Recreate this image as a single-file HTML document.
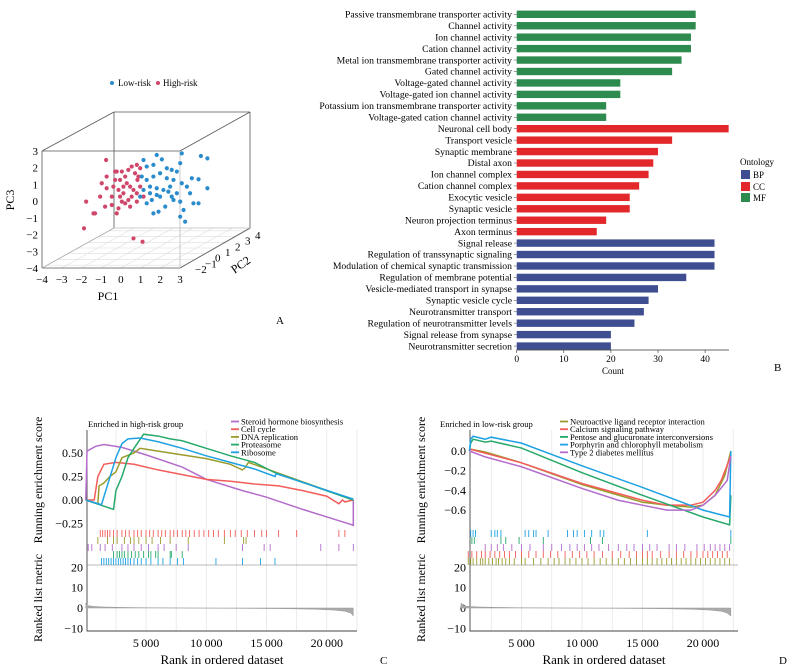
<!DOCTYPE html>
<html><head><meta charset="utf-8">
<style>
html,body{margin:0;padding:0;background:#fff;}
svg{display:block;font-family:"Liberation Serif",serif;}
</style></head>
<body>
<svg id="fig" width="788" height="671" viewBox="0 0 788 671" xmlns="http://www.w3.org/2000/svg">
  <g id="panelA">
    <g>
      <circle cx="112" cy="83" r="2" fill="#2a8ccc"/>
      <text x="118" y="86" font-size="9">Low-risk</text>
      <circle cx="158" cy="83" r="2" fill="#d0466a"/>
      <text x="163" y="86" font-size="9">High-risk</text>
    </g>
    <g id="floorGrid" stroke="#ddd" stroke-width="0.6"></g>
    <g stroke="#555" stroke-width="0.8" fill="none">
      <line x1="114" y1="112" x2="250" y2="112"/>
      <line x1="114" y1="112" x2="114" y2="228"/>
      <line x1="250" y1="112" x2="250" y2="228"/>
      <line x1="42" y1="151" x2="114" y2="112"/>
      <line x1="180" y1="151" x2="250" y2="112"/>
      <line x1="42" y1="151" x2="180" y2="151"/>
      <line x1="42" y1="151" x2="42" y2="268"/>
      <line x1="42" y1="268" x2="180" y2="268"/>
      <line x1="180" y1="268" x2="250" y2="228"/>
      <line x1="42" y1="268" x2="114" y2="228" stroke="#aaa"/>
      <line x1="180" y1="151" x2="180" y2="268" stroke="#bbb"/>
      <line x1="114" y1="228" x2="250" y2="228" stroke="#bbb"/>
    </g>
    <g id="pcaTicks" font-size="11"></g>
    <g id="pcaPoints"></g>
    <text x="108" y="300" font-size="12" text-anchor="middle">PC1</text>
    <text x="14" y="200" font-size="12" text-anchor="middle" transform="rotate(-90 14 200)">PC3</text>
    <text x="243" y="268" font-size="12" text-anchor="middle" transform="rotate(-35 243 268)">PC2</text>
    <text x="276" y="324" font-size="11">A</text>
  </g>

  <g id="panelB">
    <g id="bars"></g>
    <g id="barAxis"></g>
    <text x="613" y="374" font-size="9" text-anchor="middle">Count</text>
    <g>
      <text x="740" y="165" font-size="9">Ontology</text>
      <rect x="741" y="170" width="9" height="9" fill="#3f4e91"/>
      <text x="753" y="178" font-size="9">BP</text>
      <rect x="741" y="182" width="9" height="9" fill="#e2282a"/>
      <text x="753" y="190" font-size="9">CC</text>
      <rect x="741" y="193" width="9" height="9" fill="#2e8b4f"/>
      <text x="753" y="201" font-size="9">MF</text>
    </g>
    <text x="774" y="371" font-size="11">B</text>
  </g>

  <g id="panelC"></g>
  <g id="panelD"></g>
</svg>

<script>
const NS = "http://www.w3.org/2000/svg";
function mk(tag, attrs, parent, txt){
  const e = document.createElementNS(NS, tag);
  for (const k in attrs) e.setAttribute(k, attrs[k]);
  if (txt !== undefined) e.textContent = txt;
  parent.appendChild(e);
  return e;
}

/* ---------------- Panel A data ---------------- */
const lowPC1 = [1.15,1.82,2.08,3.09,4.06,4.39,1.31,1.65,2.33,2.58,2.84,3.01,1.06,1.31,1.65,1.99,2.33,2.67,3.09,3.35,3.6,3.94,4.39,1.48,1.82,2.16,2.41,2.84,3.51,3.68,3.94,3.18,3.01,1.82,1.57,1.31,1.65,1.91,2.25,3.01,3.26,2.58,1.99,1.15,1.48,0.98,2.5,2.67];
const lowPC3 = [2.46,2.76,2.5,2.86,2.7,2.56,2.07,2.17,1.97,1.87,1.77,2.27,1.47,1.27,1.47,1.67,1.37,1.27,1.07,0.87,1.37,1.31,0.77,0.87,0.77,0.67,0.57,0.47,0.47,-0.13,-0.13,-0.53,-0.03,0.37,0.07,-0.13,-0.73,-0.63,-0.33,-0.93,-1.23,0.27,0.27,0.67,0.47,0.27,0.87,0.07];
const highPC1 = [-0.75,-1.76,-1.31,-1.39,-1.87,0.64,1.10,-0.97,-0.72,-1.05,-0.80,-0.46,-0.21,-0.12,-0.04,-0.12,-0.29,-0.21,0.05,0.22,0.38,0.55,0.81,0.98,0.72,0.89,0.30,0.47,0.64,0.81,0.55,0.38,0.22,0.05,0.98,1.15,-0.04,-0.38,0.13,0.81,0.47,-0.72,-0.46,-0.29,0.84,0.13];
const highPC3 = [2.46,-0.03,-0.73,-0.73,-1.63,-2.23,-2.43,1.07,0.77,0.27,-0.33,-0.23,-0.73,-0.43,0.27,0.67,1.27,1.77,1.77,1.47,1.87,2.07,2.17,1.97,1.67,1.47,1.07,0.87,0.67,0.47,0.27,0.07,-0.13,-0.03,0.87,0.27,1.27,0.87,0.87,-0.03,-0.33,1.47,0.27,1.77,1.27,0.47];
const pc1Ticks = [-4,-3,-2,-1,0,1,2,3];
const pc3Ticks = [3,2,1,0,-1,-2,-3,-4];
const pc2Ticks = [-2,-1,0,1,2,3,4];

(function(){
  const xA = v => 42 + (v + 4) * (138 / 7);
  const yA = v => 151 + (3 - v) * (117 / 7);
  const pts = document.getElementById('pcaPoints');
  for (let i = 0; i < highPC1.length; i++) {
    const c = mk('circle', {cx: xA(highPC1[i]), cy: yA(highPC3[i]), r: 2.1, fill: '#d0466a'}, pts);
    
    
  }
  for (let i = 0; i < lowPC1.length; i++) {
    const c = mk('circle', {cx: xA(lowPC1[i]), cy: yA(lowPC3[i]), r: 2.1, fill: '#2a8ccc'}, pts);
    
    
  }
  const tk = document.getElementById('pcaTicks');
  const grid = document.getElementById('floorGrid');
  pc1Ticks.forEach(v => {
    const t = mk('text', {x: xA(v), y: 283, 'text-anchor': 'middle'}, tk, (v < 0 ? '\u2212' + (-v) : v));
    
    
    const g = mk('line', {x1: xA(v), y1: 268, x2: xA(v) + 72, y2: 228}, grid);
    
    
  });
  pc3Ticks.forEach(v => {
    const t = mk('text', {x: 38, y: yA(v) + 4, 'text-anchor': 'end'}, tk, (v < 0 ? '\u2212' + (-v) : v));
    
    
  });
  const d2 = v => (v + 2.5) / 7;
  pc2Ticks.forEach(v => {
    const f = d2(v);
    const t = mk('text', {x: 190 + f * 70, y: 272 - f * 40 + 4, 'text-anchor': 'start'}, tk, (v < 0 ? '\u2212' + (-v) : v));
    
    
    const g = mk('line', {x1: 42 + f * 72, y1: 268 - f * 40, x2: 180 + f * 70, y2: 268 - f * 40}, grid);
    
    
  });
})();

/* ---------------- Panel B data ---------------- */
const goTerms = ["Passive transmembrane transporter activity","Channel activity","Ion channel activity","Cation channel activity","Metal ion transmembrane transporter activity","Gated channel activity","Voltage-gated channel activity","Voltage-gated ion channel activity","Potassium ion transmembrane transporter activity","Voltage-gated cation channel activity","Neuronal cell body","Transport vesicle","Synaptic membrane","Distal axon","Ion channel complex","Cation channel complex","Exocytic vesicle","Synaptic vesicle","Neuron projection terminus","Axon terminus","Signal release","Regulation of transsynaptic signaling","Modulation of chemical synaptic transmission","Regulation of membrane potential","Vesicle-mediated transport in synapse","Synaptic vesicle cycle","Neurotransmitter transport","Regulation of neurotransmitter levels","Signal release from synapse","Neurotransmitter secretion"];
const goCounts = [38,38,37,37,35,33,22,22,19,19,45,33,30,29,28,26,24,24,19,17,42,42,42,36,30,28,27,25,20,20];
const goOntology = ["MF","MF","MF","MF","MF","MF","MF","MF","MF","MF","CC","CC","CC","CC","CC","CC","CC","CC","CC","CC","BP","BP","BP","BP","BP","BP","BP","BP","BP","BP"];
const countTicks = [0,10,20,30,40];

(function(){
  const colors = {MF:'#2e8b4f', CC:'#e2282a', BP:'#3f4e91'};
  const x0 = 516.7, k = 4.71;
  const xB = v => x0 + v * k;
  const yB = i => 14.3 + i * 11.44;
  const bars = document.getElementById('bars');
  goTerms.forEach((t, i) => {
    const r = mk('rect', {x: x0, y: yB(i) - 3.7, width: xB(goCounts[i]) - x0, height: 7.4, fill: colors[goOntology[i]]}, bars);
    
    
    const l = mk('text', {x: 512, y: yB(i) + 3.2, 'text-anchor': 'end', 'font-size': 9.7}, bars, t);
    
    
    const tm = mk('line', {x1: 514, x2: 516.7, y1: yB(i), y2: yB(i), stroke: '#555', 'stroke-width': 0.6}, bars);
    
    
  });
  const ax = document.getElementById('barAxis');
  const al = mk('line', {x1: x0, x2: 729, y1: 350, y2: 350, stroke: '#333', 'stroke-width': 0.8}, ax);
  
  
  countTicks.forEach(v => {
    const tl = mk('line', {x1: xB(v), x2: xB(v), y1: 350, y2: 353, stroke: '#333', 'stroke-width': 0.6}, ax);
    
    
    const tt = mk('text', {x: xB(v), y: 362, 'text-anchor': 'middle', 'font-size': 9.5}, ax, v);
    
    
  });
})();

/* ---------------- Panel C data (rank in thousands) ---------------- */
const cNames = ["Steroid hormone biosynthesis","Cell cycle","DNA replication","Proteasome","Ribosome"];
const cColors = ["#b36ccb","#f25d5a","#9a9b2c","#27a96b","#1da1e2"];
const cSteroidRank = [0,0.1,0.8,1.5,3,5,8,10,13,15,18,20,22,22.2,22.2];
const cSteroidScore = [0,0.52,0.57,0.59,0.56,0.48,0.35,0.22,0.1,0.03,-0.1,-0.18,-0.26,-0.27,0.0];
const cCellRank = [0,0.7,1,1.5,2.5,4,6,8,10,12,14,16,18,20,21,21.3,21.5,22.2];
const cCellScore = [0,0,0.25,0.38,0.40,0.38,0.32,0.27,0.22,0.2,0.17,0.15,0.1,0.04,-0.04,0.0,-0.02,0.0];
const cDnaRank = [0,1,1.1,1.5,2,2.5,3,4,4.5,6,8,10,12,13,13.2,13.5,22.2];
const cDnaScore = [0,-0.04,0.15,0.18,0.25,0.3,0.45,0.5,0.55,0.52,0.48,0.44,0.38,0.32,0.34,0.40,0.0];
const cProtRank = [0,2.3,2.5,3,3.5,4,4.8,6,7,8,10,12,14,15.7,22.2];
const cProtScore = [0,-0.1,0.1,0.25,0.45,0.55,0.70,0.68,0.65,0.63,0.55,0.47,0.40,0.29,0.0];
const cRiboRank = [0,1.3,2.5,3,3.5,4.5,6,8,10,12,14,15.7,15.8,22.2];
const cRiboScore = [0,-0.05,0.45,0.6,0.65,0.66,0.62,0.55,0.47,0.4,0.33,0.25,0.28,0.01];
const cRugSteroid = [0.2,0.5,1.2,1.6,2.2,3,3.5,4,4.6,5.2,6,6.5,7.5,8.5,13,14.8,15.3,19.5,21,22.2];
const cRugCell = [1.2,1.4,1.6,1.8,2,2.3,2.6,3,3.3,3.6,4,4.3,4.6,5,5.3,5.6,6,6.3,6.6,7,7.3,7.6,8,8.3,8.6,9,9.4,9.8,10.2,10.6,11,11.5,12,12.4,12.9,13.4,14,14.6,15,16,17.5,21,21.5];
const cRugDna = [1,1.8,2.3,2.6,3.2,3.7,4,4.4,5,5.5,6.2,7,8.5,11.5,13.1,13.3];
const cRugProt = [2.3,2.6,2.8,3,3.2,3.5,3.8,4.1,4.4,4.8,5.2,5.4,5.8,6,7,7.1,8];
const cRugRibo = [1.3,1.5,1.7,1.9,2.1,2.3,2.5,2.7,2.9,3.1,3.3,3.5,3.7,4,4.3,4.6,5,5.4,6,6.4,7,7.6,8.1,10.8,13,14.5,15.7];
const cMetricRank = [0,0.2,0.6,1.5,3,5,8,12,16,19,20.5,21.5,22,22.2];
const cMetricVal = [2.5,1.2,0.8,0.5,0.3,0.15,0,-0.15,-0.3,-0.6,-1,-1.6,-2.5,-4];

/* ---------------- Panel D data ---------------- */
const dNames = ["Neuroactive ligand receptor interaction","Calcium signaling pathway","Pentose and glucuronate interconversions","Porphyrin and chlorophyll metabolism","Type 2 diabetes mellitus"];
const dColors = ["#9a9b2c","#f25d5a","#27a96b","#1da1e2","#b36ccb"];
const dNeuroRank = [0.7,2,5,10,15,17,19,20,21,21.8,22.3];
const dNeuroScore = [0.02,-0.01,-0.12,-0.34,-0.52,-0.55,-0.57,-0.55,-0.45,-0.25,0.0];
const dCalcRank = [0.7,5,10,15,17,19,20,21,21.5,22.3];
const dCalcScore = [0.02,-0.12,-0.33,-0.5,-0.55,-0.55,-0.52,-0.40,-0.3,-0.05];
const dPentRank = [0.7,0.8,1,2,2.5,5,10,15,20,22.2,22.3];
const dPentScore = [0,0.08,0.12,0.09,0.10,0.03,-0.22,-0.45,-0.67,-0.75,-0.45];
const dPorphRank = [0.7,0.8,1,2,2.5,5,10,15,20,22.2,22.3];
const dPorphScore = [0,0.12,0.15,0.12,0.14,0.08,-0.15,-0.37,-0.6,-0.67,0.0];
const dT2dRank = [0.7,2,5,10,13,15,17,19,20,21,22,22.3];
const dT2dScore = [0,-0.06,-0.16,-0.38,-0.5,-0.55,-0.6,-0.6,-0.55,-0.45,-0.3,-0.05];
const dRugPorph = [0.8,1,1.2,2.5,2.8,3,3.3,5.3,5.6,6,6.2,7.2,8.8,9.3,9.6,10.2,10.8,11.5,11.8,15.4,22.3];
const dRugPent = [0.9,1.1,3.3,3.7,4.8,6.8,10.7,11.7,22.3];
const dRugT2d = [2,2.5,3,3.5,4.2,5,5.7,6.8,7.5,8.3,9,9.6,10.2,10.8,11.4,12.2,13,13.7,14.3,15,15.6,16.2,17.2,17.8,18.5,19.5,20.1,20.6,21,21.4,21.8,22.2];
const dRugCalc = [0.6,0.9,1.3,1.7,2,2.4,2.8,3.2,3.6,4,4.5,5,5.6,6.2,6.8,7.4,8,8.6,9.2,9.8,10.4,11,11.7,12.5,13.2,13.9,14.5,15,15.4,15.8,16.5,17.2,17.8,18.4,19,19.5,20,20.4,20.8,21.2,21.6,22];
const dRugNeuro = [0.6,0.8,1,1.3,1.6,1.8,2,2.3,2.6,2.9,3.1,3.4,3.7,4,4.4,5,5.3,6,6.6,7.2,7.7,8.1,8.6,9,9.5,10,10.5,11,11.5,12,12.5,13,13.5,14,14.5,15,15.4,15.8,16.2,16.6,17,17.4,17.8,18.2,18.6,19,19.4,19.8,20.2,20.6,21,21.4,21.8,22.2];
const dMetricRank = [0,0.2,0.6,1.5,3,5,8,12,16,19,20.5,21.5,22,22.3];
const dMetricVal = [2.5,1.2,0.8,0.5,0.3,0.15,0,-0.15,-0.3,-0.6,-1,-1.6,-2.5,-4];
const metricTicks = [20,10,0,-10];
const rankTicks = [5,10,15,20];

function gseaPanel(cfg){
  const g = document.getElementById(cfg.id);
  const xR = r => cfg.x0 + r * cfg.kx;
  const yS = s => cfg.yZero - s * cfg.ky;
  const yM = m => 608 - m * 2.03;
  const fr = mk('rect', {x: cfg.left, y: 430, width: cfg.right - cfg.left, height: 201, fill: 'none'}, g);
  
  
  for (let r = 2.5; r < 23; r += 2.5) {
    if (xR(r) > cfg.right) break;
    const gl = mk('line', {x1: xR(r), x2: xR(r), y1: 430, y2: 631, stroke: '#e6e6e6', 'stroke-width': 0.8}, g);
    
    
  }
  const axl = mk('path', {d: `M${cfg.left},430 V631 H${cfg.right}`, fill: 'none', stroke: '#444', 'stroke-width': 0.9}, g);
  
  
  const sep = mk('line', {x1: cfg.left, x2: cfg.right, y1: 565, y2: 565, stroke: '#777', 'stroke-width': 0.5}, g);
  
  
  cfg.scoreTicks.forEach((v, i) => {
    const t = mk('text', {x: cfg.left - 4, y: yS(v) + 4, 'text-anchor': 'end', 'font-size': 12}, g, cfg.scoreLabels[i]);
    
    
  });
  metricTicks.forEach(v => {
    const t = mk('text', {x: cfg.left - 4, y: yM(v) + 4, 'text-anchor': 'end', 'font-size': 12}, g, v < 0 ? '\u2212' + (-v) : v);
    
    
  });
  rankTicks.forEach(v => {
    const t = mk('text', {x: xR(v), y: 647, 'text-anchor': 'middle', 'font-size': 12}, g, v + '\u2009000');
    
    
  });
  let d = `M${xR(cfg.mRank[0])},${yM(0)}`;
  cfg.mRank.forEach((r, i) => { d += ` L${xR(r)},${yM(cfg.mVal[i])}`; });
  d += ` L${xR(cfg.mRank[cfg.mRank.length - 1])},${yM(0)} Z`;
  const ar = mk('path', {d: d, fill: '#aaa', stroke: '#999', 'stroke-width': 0.5}, g);
  
  
  cfg.rugs.forEach(rg => {
    rg.ranks.forEach(r => {
      const l = mk('line', {x1: xR(r), x2: xR(r), y1: rg.y, y2: rg.y + 7, stroke: rg.color, 'stroke-width': 0.9}, g);
      
      
    });
  });
  cfg.series.forEach(s => {
    const pts = s.rank.map((r, i) => xR(r) + ',' + yS(s.score[i])).join(' ');
    const p = mk('polyline', {points: pts, fill: 'none', stroke: s.color, 'stroke-width': 1.5}, g);
    
    
  });
  cfg.series.forEach((s, i) => {
    const y = 421.5 + i * 7.7;
    const ll = mk('line', {x1: cfg.legX, x2: cfg.legX + 8, y1: y, y2: y, stroke: s.color, 'stroke-width': 1.8}, g);
    
    
    const lt = mk('text', {x: cfg.legX + 10, y: y + 3, 'font-size': 8.6}, g, s.name);
    
    
  });
  const ti = mk('text', {x: cfg.titleX, y: 427, 'font-size': 8.6}, g, cfg.title);
  
  
  const yt1 = mk('text', {x: cfg.left - 45, y: 480, 'text-anchor': 'middle', 'font-size': 12, transform: `rotate(-90 ${cfg.left - 45} 480)`}, g, 'Running enrichment score');
  
  
  const yt2 = mk('text', {x: cfg.left - 45, y: 598, 'text-anchor': 'middle', 'font-size': 12, transform: `rotate(-90 ${cfg.left - 45} 598)`}, g, 'Ranked list metric');
  
  
  const xt = mk('text', {x: (cfg.left + cfg.right) / 2, y: 664, 'text-anchor': 'middle', 'font-size': 13}, g, 'Rank in ordered dataset');
  
  
  const pl = mk('text', {x: cfg.letterX, y: 664, 'font-size': 11}, g, cfg.letter);
  
  
}

gseaPanel({
  id: 'panelC', left: 87, right: 357, x0: 85.8, kx: 12.05, yZero: 500, ky: 94,
  scoreTicks: [0.5, 0.25, 0, -0.25], scoreLabels: ['0.50', '0.25', '0.00', '\u22120.25'],
  mRank: cMetricRank, mVal: cMetricVal,
  rugs: [
    {ranks: cRugCell, color: '#f25d5a', y: 530},
    {ranks: cRugDna, color: '#9a9b2c', y: 537},
    {ranks: cRugSteroid, color: '#b36ccb', y: 544},
    {ranks: cRugProt, color: '#27a96b', y: 551},
    {ranks: cRugRibo, color: '#1da1e2', y: 558}
  ],
  series: [
    {name: cNames[0], color: cColors[0], rank: cSteroidRank, score: cSteroidScore},
    {name: cNames[1], color: cColors[1], rank: cCellRank, score: cCellScore},
    {name: cNames[2], color: cColors[2], rank: cDnaRank, score: cDnaScore},
    {name: cNames[3], color: cColors[3], rank: cProtRank, score: cProtScore},
    {name: cNames[4], color: cColors[4], rank: cRiboRank, score: cRiboScore}
  ],
  legX: 231, titleX: 88, title: 'Enriched in high-risk group', letter: 'C', letterX: 380
});

gseaPanel({
  id: 'panelD', left: 470, right: 738, x0: 461, kx: 12.1, yZero: 451, ky: 98.5,
  scoreTicks: [0, -0.2, -0.4, -0.6], scoreLabels: ['0.0', '\u22120.2', '\u22120.4', '\u22120.6'],
  mRank: dMetricRank, mVal: dMetricVal,
  rugs: [
    {ranks: dRugPorph, color: '#1da1e2', y: 530},
    {ranks: dRugPent, color: '#27a96b', y: 537},
    {ranks: dRugT2d, color: '#b36ccb', y: 544},
    {ranks: dRugCalc, color: '#f25d5a', y: 551},
    {ranks: dRugNeuro, color: '#9a9b2c', y: 558}
  ],
  series: [
    {name: dNames[0], color: dColors[0], rank: dNeuroRank, score: dNeuroScore},
    {name: dNames[1], color: dColors[1], rank: dCalcRank, score: dCalcScore},
    {name: dNames[2], color: dColors[2], rank: dPentRank, score: dPentScore},
    {name: dNames[3], color: dColors[3], rank: dPorphRank, score: dPorphScore},
    {name: dNames[4], color: dColors[4], rank: dT2dRank, score: dT2dScore}
  ],
  legX: 560, titleX: 440, title: 'Enriched in low-risk group', letter: 'D', letterX: 779
});
</script>
</body></html>
